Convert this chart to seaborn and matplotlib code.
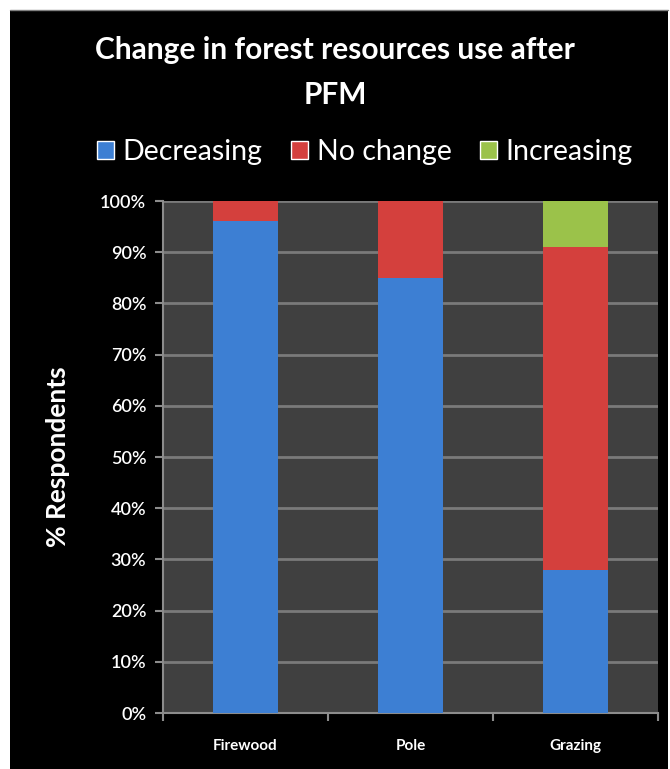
import matplotlib
matplotlib.use("Agg")
import matplotlib.pyplot as plt
import numpy as np
import pandas as pd
import seaborn as sns
from matplotlib.patches import Rectangle

# --------------------------------------------------
# Data (percent of respondents)
# --------------------------------------------------
categories = ["Firewood", "Pole", "Grazing"]
series_names = ["Decreasing", "No change", "Increasing"]
decreasing = [96, 85, 28]
no_change = [4, 15, 63]
increasing = [0, 0, 9]

colors = {"Decreasing": "#3D7FD3", "No change": "#D4403D", "Increasing": "#9BC24A"}

df = pd.DataFrame({
    "Category": categories,
    "Decreasing": decreasing,
    "No change": no_change,
    "Increasing": increasing,
})
# cumulative tops for stacking
df["top_Decreasing"] = df["Decreasing"]
df["top_No change"] = df["Decreasing"] + df["No change"]
df["top_Increasing"] = df["top_No change"] + df["Increasing"]

# --------------------------------------------------
# Style
# --------------------------------------------------
sns.set_theme(style="dark")
plt.rcParams["font.family"] = ["Lato", "DejaVu Sans"]

fig = plt.figure(figsize=(6.7, 7.69), dpi=100, facecolor="white")
# black chart frame, small white margin at top/left like the screenshot
fig.patches.append(Rectangle((10 / 670, 0), 1 - 12 / 670, 1 - 10 / 769,
                             transform=fig.transFigure, facecolor="black",
                             edgecolor="none", zorder=-5))
fig.lines.append(plt.Line2D([10 / 670, 1 - 2 / 670], [1 - 10 / 769] * 2,
                            transform=fig.transFigure, color="#808080", linewidth=1))

ax = fig.add_axes([163 / 670, (769 - 713) / 769, (658 - 163) / 670, (713 - 201) / 769])
ax.set_facecolor("#404040")

# stacked bars: draw the tallest cumulative layer first, lower layers on top
for name in reversed(series_names):
    sns.barplot(data=df, x="Category", y="top_" + name, color=colors[name],
                width=0.39, saturation=1, linewidth=0, ax=ax, zorder=3)

ax.set_xlim(-0.5, 2.5)
ax.set_ylim(0, 100)
ax.set_yticks(np.arange(0, 101, 10))
ax.set_yticklabels([f"{v}%" for v in range(0, 101, 10)])
ax.set_xticks(range(len(categories)))
ax.set_xticklabels(categories)

ax.grid(axis="y", color="#7a7a7a", linewidth=2)
ax.grid(axis="x", visible=False)
ax.set_axisbelow(True)

for side in ["top", "right"]:
    ax.spines[side].set_visible(False)
for side in ["left", "bottom"]:
    ax.spines[side].set_visible(True)
    ax.spines[side].set_color("#8c8c8c")
    ax.spines[side].set_linewidth(1.5)

ax.tick_params(axis="y", colors="#8c8c8c", labelcolor="white", labelsize=13,
               length=6, width=1.5, left=True, pad=6)
ax.tick_params(axis="x", bottom=False, labelcolor="white", labelsize=11, pad=13)
for lbl in ax.get_xticklabels():
    lbl.set_fontweight("bold")
for lbl in ax.get_yticklabels():
    lbl.set_fontweight("semibold")

# category boundary ticks on the x axis
ax.set_xticks([-0.5, 0.5, 1.5, 2.5], minor=True)
ax.tick_params(axis="x", which="minor", bottom=True, length=6, width=1.5, colors="#8c8c8c")

ax.set_xlabel("")
ax.set_ylabel("% Respondents", color="white", fontsize=19, fontweight="bold", labelpad=22)

fig.text(0.5, 1 - 50 / 769, "Change in forest resources use after", ha="center", va="center",
         color="white", fontsize=21.5, fontweight="bold")
fig.text(0.5, 1 - 95 / 769, "PFM", ha="center", va="center",
         color="white", fontsize=21.5, fontweight="bold")

legend_handles = [Rectangle((0, 0), 1, 1, facecolor=colors[n]) for n in series_names]
fig.legend(handles=legend_handles, labels=series_names, loc="center",
           bbox_to_anchor=(365 / 670, 1 - 152 / 769), ncol=3, frameon=False,
           fontsize=20.5, labelcolor="white", handlelength=0.6, handleheight=0.6,
           handletextpad=0.3, columnspacing=1.0)

fig.savefig("out.png", dpi=100, facecolor=fig.get_facecolor())
